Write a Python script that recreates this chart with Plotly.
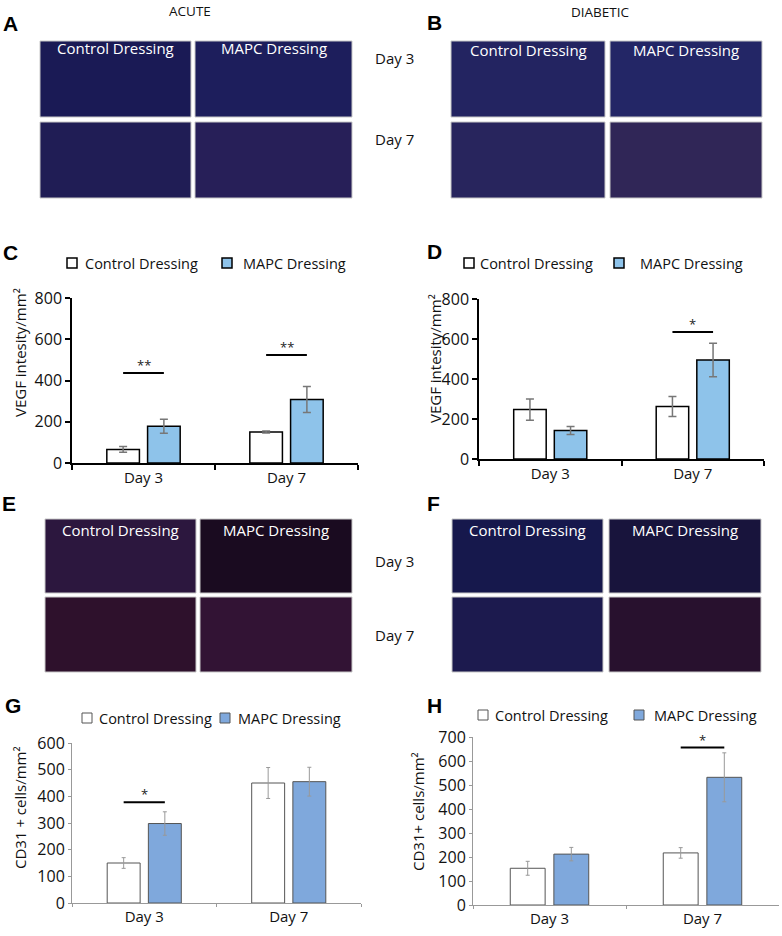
import plotly.graph_objects as go

W, H = 782, 936
FONT = "Open Sans"

days = ["Day 3", "Day 7"]
groups = ["Control Dressing", "MAPC Dressing"]

# C: VEGF intensity, acute wounds
vegf_acute_ctrl = [66, 150]
vegf_acute_ctrl_err = [14, 5]
vegf_acute_mapc = [178, 308]
vegf_acute_mapc_err = [34, 63]
vegf_acute_sig = [436, 524]
vegf_acute_stars = ["**", "**"]

# D: VEGF intensity, diabetic wounds
vegf_diab_ctrl = [247, 262]
vegf_diab_ctrl_err = [53, 50]
vegf_diab_mapc = [142, 495]
vegf_diab_mapc_err = [20, 84]
vegf_diab_sig = [None, 635]
vegf_diab_stars = ["", "*"]

# G: CD31+ cells, acute wounds
cd31_acute_ctrl = [150, 450]
cd31_acute_ctrl_err = [20, 58]
cd31_acute_mapc = [298, 455]
cd31_acute_mapc_err = [44, 54]
cd31_acute_sig = [378, None]
cd31_acute_stars = ["*", ""]

# H: CD31+ cells, diabetic wounds
cd31_diab_ctrl = [153, 217]
cd31_diab_ctrl_err = [29, 22]
cd31_diab_mapc = [212, 532]
cd31_diab_mapc_err = [28, 102]
cd31_diab_sig = [None, 656]
cd31_diab_stars = ["", "*"]

vegf_ticks = [0, 200, 400, 600, 800]
cd31_acute_ticks = [0, 100, 200, 300, 400, 500, 600]
cd31_diab_ticks = [0, 100, 200, 300, 400, 500, 600, 700]

BARGAP = 0.43


def px(x):
    return x / W


def py(y):
    return 1 - y / H


def label(text, x, y, size=15, color="#111", family=FONT, xanchor="center", angle=0):
    # paper-anchored text placed by its pixel centre
    return dict(text=text, xref="paper", yref="paper", x=px(x), y=py(y), showarrow=False,
                xanchor=xanchor, yanchor="middle", textangle=angle,
                font=dict(family=family, size=size, color=color))


# pixel boxes of the four bar charts: (left, right, bottom, top)
charts = [
    dict(ax="", box=(72, 358, 463, 298), ctrl=vegf_acute_ctrl, ctrl_err=vegf_acute_ctrl_err,
         mapc=vegf_acute_mapc, mapc_err=vegf_acute_mapc_err, sig=vegf_acute_sig, stars=vegf_acute_stars,
         ticks=vegf_ticks, title="VEGF intesity/mm²", title_pos=(20, 353), style="bold",
         legend=(263, 67, 83, 222, 241)),
    dict(ax="2", box=(479, 764, 459, 299), ctrl=vegf_diab_ctrl, ctrl_err=vegf_diab_ctrl_err,
         mapc=vegf_diab_mapc, mapc_err=vegf_diab_mapc_err, sig=vegf_diab_sig, stars=vegf_diab_stars,
         ticks=vegf_ticks, title="VEGF intesity/mm²", title_pos=(435, 359), style="bold",
         legend=(263, 464, 478, 614, 638)),
    dict(ax="3", box=(72, 361, 903, 743), ctrl=cd31_acute_ctrl, ctrl_err=cd31_acute_ctrl_err,
         mapc=cd31_acute_mapc, mapc_err=cd31_acute_mapc_err, sig=cd31_acute_sig, stars=cd31_acute_stars,
         ticks=cd31_acute_ticks, title="CD31 + cells/mm²", title_pos=(20, 808), style="light",
         legend=(718, 82, 97, 220, 236)),
    dict(ax="4", box=(473, 779, 905, 737), ctrl=cd31_diab_ctrl, ctrl_err=cd31_diab_ctrl_err,
         mapc=cd31_diab_mapc, mapc_err=cd31_diab_mapc_err, sig=cd31_diab_sig, stars=cd31_diab_stars,
         ticks=cd31_diab_ticks, title="CD31+ cells/mm²", title_pos=(418, 812), style="light",
         legend=(715, 478, 493, 634, 652)),
]

styles = {
    "bold": dict(blue="#8ec3ea", edge="black", edge_w=1.5, err="#777777", err_w=1.5, cap=4,
                 axis="black", axis_w=1.5),
    "light": dict(blue="#7fa8dc", edge="#555555", edge_w=1, err="#999999", err_w=1, cap=2,
                  axis="#999999", axis_w=1),
}

fig = go.Figure()
shapes = []
annotations = []

for c in charts:
    st = styles[c["style"]]
    xa, ya = "x" + c["ax"], "y" + c["ax"]
    for name, vals, errs, fill in [
        (groups[0], c["ctrl"], c["ctrl_err"], "white"),
        (groups[1], c["mapc"], c["mapc_err"], st["blue"]),
    ]:
        fig.add_trace(go.Bar(
            x=days, y=vals, name=name, xaxis=xa, yaxis=ya, showlegend=False,
            marker=dict(color=fill, line=dict(color=st["edge"], width=st["edge_w"])),
            error_y=dict(type="data", array=errs, color=st["err"], thickness=st["err_w"], width=st["cap"]),
        ))
    left, right, bottom, top = c["box"]
    key = c["ax"]
    fig.layout["xaxis" + key] = dict(
        domain=[px(left), px(right)], anchor=ya, type="category", automargin=False,
        showline=True, linecolor=st["axis"], linewidth=st["axis_w"],
        ticks="outside", tickson="boundaries", ticklen=5 if c["style"] == "bold" else 3,
        tickcolor=st["axis"], tickwidth=st["axis_w"],
        tickfont=dict(family=FONT, size=15, color="#111"), showgrid=False, zeroline=False,
        fixedrange=True,
    )
    fig.layout["yaxis" + key] = dict(
        domain=[py(bottom), py(top)], anchor=xa, range=[0, c["ticks"][-1]], automargin=False,
        tickvals=c["ticks"], showline=True, linecolor=st["axis"], linewidth=st["axis_w"],
        ticks="outside", ticklen=5 if c["style"] == "bold" else 3, tickcolor=st["axis"],
        tickwidth=st["axis_w"], tickfont=dict(family=FONT, size=16, color="#111"),
        showgrid=False, zeroline=False, fixedrange=True,
    )
    # significance bars span from bar centre to bar centre
    half = (1 - BARGAP) / 4
    for i, (lvl, star) in enumerate(zip(c["sig"], c["stars"])):
        if lvl is None:
            continue
        shapes.append(dict(type="line", xref=xa, yref=ya, x0=i - half, x1=i + half, y0=lvl, y1=lvl,
                           line=dict(color="black", width=2)))
        annotations.append(dict(text=star, xref=xa, yref=ya, x=i, y=lvl, xanchor="center",
                                yanchor="bottom", yshift=-3, showarrow=False,
                                font=dict(family=FONT, size=13, color="#222")))
    # axis title
    tx, ty = c["title_pos"]
    annotations.append(label(c["title"], tx, ty, angle=-90))
    # legend
    ly, s1, t1, s2, t2 = c["legend"]
    for sx, lx, fill, name in [(s1, t1, "white", groups[0]), (s2, t2, st["blue"], groups[1])]:
        shapes.append(dict(type="rect", xref="paper", yref="paper",
                           x0=px(sx), x1=px(sx + 10), y0=py(ly + 5), y1=py(ly - 5),
                           fillcolor=fill, line=dict(color=st["edge"], width=st["edge_w"])))
        annotations.append(label(name, lx, ly, size=14.5, xanchor="left"))

# microscopy panels, drawn as plain tiles (pixel boxes: left, right, top, bottom)
micro = [
    dict(cols=[(40, 191), (195, 352)], rows=[(41, 117), (122, 198)],
         fills=[["#1a1a55", "#1d1e5c"], ["#201d55", "#271f58"]], label_y=48),
    dict(cols=[(451, 605), (610, 762)], rows=[(41, 117), (122, 198)],
         fills=[["#232461", "#232666"], ["#28255d", "#302657"]], label_y=50),
    dict(cols=[(45, 196), (200, 352)], rows=[(519, 593), (597, 672)],
         fills=[["#2c173e", "#1a0b20"], ["#2e112c", "#321334"]], label_y=530),
    dict(cols=[(452, 603), (609, 761)], rows=[(519, 593), (597, 672)],
         fills=[["#16184c", "#18143c"], ["#1c1a4e", "#28112e"]], label_y=530),
]

for m in micro:
    for r, (y0, y1) in enumerate(m["rows"]):
        for k, (x0, x1) in enumerate(m["cols"]):
            shapes.append(dict(type="rect", xref="paper", yref="paper", layer="below",
                               x0=px(x0), x1=px(x1), y0=py(y1), y1=py(y0),
                               fillcolor=m["fills"][r][k], line=dict(color="#c8c8c8", width=1)))
    for k, (x0, x1) in enumerate(m["cols"]):
        annotations.append(label(groups[k], (x0 + x1) / 2, m["label_y"], color="white"))

# row labels between the microscopy panels
for text, y in [("Day 3", 58), ("Day 7", 139), ("Day 3", 561), ("Day 7", 635)]:
    annotations.append(label(text, 394, y))

# column headings
annotations.append(label("ACUTE", 190, 11, size=13.5))
annotations.append(label("DIABETIC", 600, 12, size=13.5))

# panel letters
letters = [("A", 10, 23), ("B", 434, 22), ("C", 10, 253), ("D", 434, 252),
           ("E", 9, 503), ("F", 433, 503), ("G", 13, 705), ("H", 434, 705)]
for text, x, y in letters:
    annotations.append(label("<b>%s</b>" % text, x, y, size=21, color="black",
                             family="Liberation Sans"))

fig.update_layout(
    width=W, height=H, margin=dict(l=0, r=0, t=0, b=0),
    paper_bgcolor="white", plot_bgcolor="white",
    barmode="group", bargap=BARGAP, bargroupgap=0.2,
    shapes=shapes, annotations=annotations, showlegend=False,
    font=dict(family=FONT),
)

# pin the graph div to the window corner so page margins do not shift it
pin = ("document.body.style.margin='0';document.body.style.overflow='hidden';"
       "var d=document.getElementById('{plot_id}');"
       "d.style.position='fixed';d.style.left='0';d.style.top='0';")
fig.write_html("out.html", post_script=pin, config={"displayModeBar": False})
